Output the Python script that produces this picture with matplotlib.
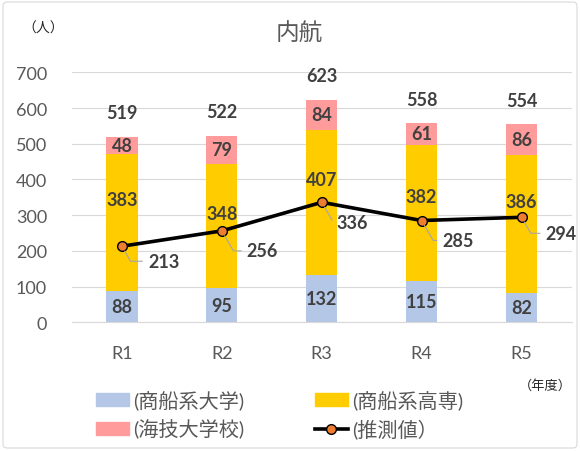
import matplotlib
matplotlib.use('Agg')
import matplotlib.pyplot as plt
from matplotlib.patches import FancyBboxPatch, Patch
from matplotlib.lines import Line2D

plt.rcParams['font.family'] = ['Lato', 'Noto Sans CJK JP']

# データ
years = ['R1', 'R2', 'R3', 'R4', 'R5']
univ = [88, 95, 132, 115, 82]        # 商船系大学
kosen = [383, 348, 407, 382, 386]    # 商船系高専
kaigi = [48, 79, 84, 61, 86]         # 海技大学校
total = [519, 522, 623, 558, 554]
estimate = [213, 256, 336, 285, 294] # 推測値

# ラベル位置の調整 (px)
kosen_shift = [23, 13, 23, 17, 23]
est_offsets = [(26, -15), (25, -20), (15, -20), (21, -20), (24, -16)]

c_univ = '#B4C7E7'
c_kosen = '#FFCC00'
c_kaigi = '#FF9B9B'
c_text = '#404040'
c_axis = '#595959'
c_grid = '#D9D9D9'

fig = plt.figure(figsize=(5.8, 4.52), dpi=100)
ax = fig.add_axes([72 / 580, 1 - 323.3 / 452, 499.5 / 580, 250 / 452])

x = list(range(len(years)))
w = 0.313
bottom2 = [a + b for a, b in zip(univ, kosen)]
ax.bar(x, univ, w, color=c_univ, zorder=2)
ax.bar(x, kosen, w, bottom=univ, color=c_kosen, zorder=2)
ax.bar(x, kaigi, w, bottom=bottom2, color=c_kaigi, zorder=2)

# 各区分の値
lab = dict(fontsize=13, fontweight='bold', color=c_text, zorder=4,
           ha='center', va='center', textcoords='offset pixels')
for i in x:
    ax.annotate(str(univ[i]), (i, univ[i] / 2), xytext=(0, 0), **lab)
    ax.annotate(str(kosen[i]), (i, univ[i] + kosen[i] / 2),
                xytext=(0, kosen_shift[i]), **lab)
    ax.annotate(str(kaigi[i]), (i, bottom2[i] + kaigi[i] / 2), xytext=(0, 0), **lab)
    ax.annotate(str(total[i]), (i, total[i]), xytext=(0, 24), **lab)

# 推測値の折れ線
ax.plot(x, estimate, color='black', lw=2.6, marker='o', markersize=7,
        markerfacecolor='#ED7D31', markeredgecolor='black', markeredgewidth=1,
        zorder=5)
for i in x:
    ax.annotate(str(estimate[i]), (i, estimate[i]), xytext=est_offsets[i],
                textcoords='offset pixels', ha='left', va='center',
                fontsize=13, fontweight='bold', color=c_text, zorder=6,
                arrowprops=dict(arrowstyle='-', color='#A6A6A6', lw=0.8,
                                relpos=(0, 0.5), shrinkA=2, shrinkB=4,
                                connectionstyle='angle,angleA=0,angleB=-60,rad=0'))

ax.set_xlim(-0.5, 4.5)
ax.set_ylim(0, 700)
ax.set_yticks(range(0, 701, 100))
ax.set_xticks(x)
ax.set_xticklabels(years)
ax.grid(axis='y', color=c_grid, lw=0.8, zorder=0)
for s in ['top', 'right', 'left']:
    ax.spines[s].set_visible(False)
ax.spines['bottom'].set_color(c_grid)
ax.spines['bottom'].set_linewidth(0.8)
ax.tick_params(axis='both', length=0, labelsize=13, labelcolor=c_axis)
ax.tick_params(axis='y', pad=18)
ax.tick_params(axis='x', pad=16)

# タイトル・単位
fig.text(299 / 580, 1 - 33 / 452, '内航', ha='center', va='center',
         fontsize=17, color=c_axis)
fig.text(43 / 580, 1 - 28 / 452, '（人）', ha='center', va='center',
         fontsize=10, color='#262626')
fig.text(545 / 580, 1 - 385 / 452, '（年度）', ha='center', va='center',
         fontsize=9.5, color='#262626')

# 凡例 (列優先で並ぶので順番を入れ替え)
h_univ = Patch(color=c_univ)
h_kosen = Patch(color=c_kosen)
h_kaigi = Patch(color=c_kaigi)
h_est = Line2D([], [], color='black', lw=2.6, marker='o', markersize=7,
               markerfacecolor='#ED7D31', markeredgecolor='black')
fig.legend([h_univ, h_kaigi, h_kosen, h_est],
           ['(商船系大学)', '(海技大学校)', '(商船系高専)', '(推測値）'],
           loc='upper left', bbox_to_anchor=(96 / 580, 1 - 391 / 452),
           ncol=2, frameon=False, fontsize=14.5, labelcolor=c_axis,
           handlelength=1.65, handleheight=0.65, handletextpad=0.2,
           columnspacing=3.5, labelspacing=0.45, borderpad=0, borderaxespad=0)

# 外枠
fig.patches.append(FancyBboxPatch((3 / 580, 3 / 452), 574 / 580, 446 / 452,
                                  boxstyle='round,pad=0,rounding_size=0.008',
                                  transform=fig.transFigure, fill=False,
                                  ec=c_grid, lw=0.8))

fig.savefig('out.png', dpi=100)
